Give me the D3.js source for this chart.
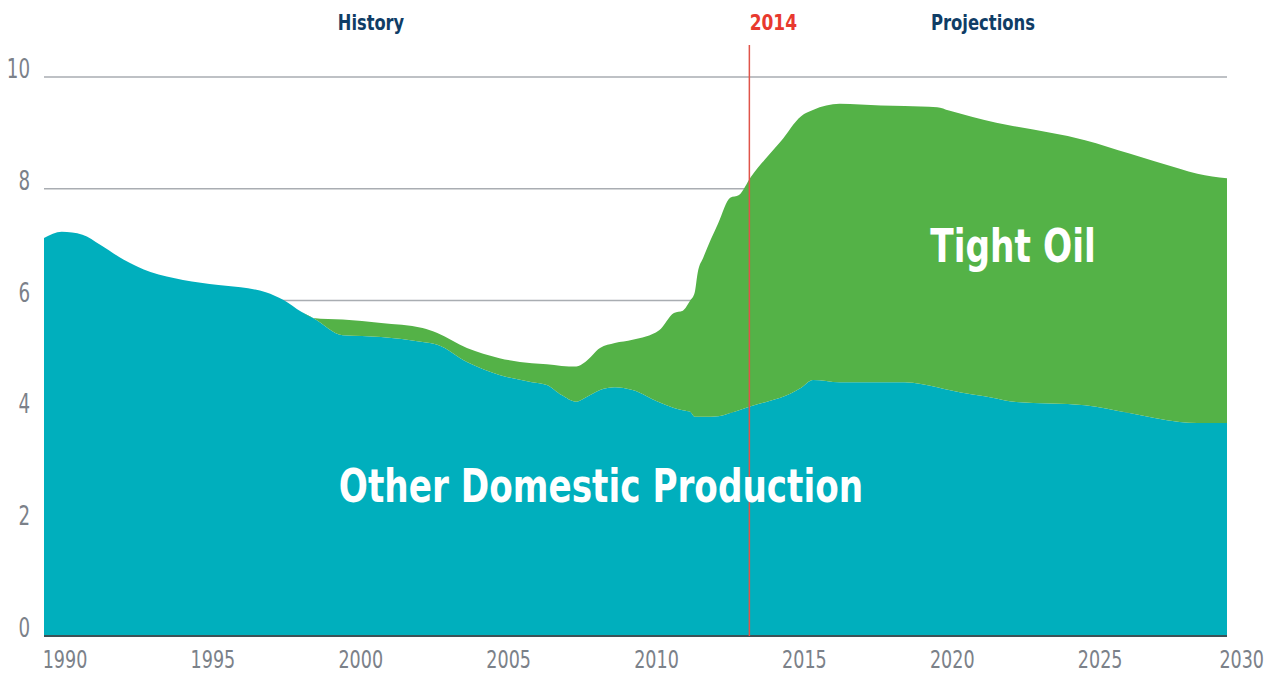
<!DOCTYPE html>
<html>
<head>
<meta charset="utf-8">
<script src="https://cdn.jsdelivr.net/npm/d3@7"></script>
<style>
  html, body { margin: 0; padding: 0; background: #fff; }
  svg text { font-family: 'Liberation Sans Narrow', 'DejaVu Sans Condensed', 'Roboto', sans-serif; font-stretch: condensed; }
</style>
</head>
<body>
<svg id="chart" width="1274" height="675"></svg>
<script>
// ---- data (million barrels per day) ----
const years = [1990, 1990.6, 1991.3, 1991.9, 1992.7, 1993.6, 1994.7, 1995.9, 1996.9, 1997.5,
  1998.1, 1998.7, 1999.1, 2000.1, 2001.4, 2002.8, 2003.3, 2004.3, 2005.4, 2006.5,
  2007.0, 2007.5, 2008.0, 2008.3, 2008.8, 2009.3, 2009.9, 2010.8, 2011.3, 2011.6,
  2011.85, 2012.0, 2012.1, 2012.3, 2012.8, 2013.2, 2013.5, 2013.9, 2014.5, 2014.9,
  2015.6, 2016.0, 2016.9, 2018.3, 2019.1, 2020.2, 2020.6, 2022.2, 2022.8, 2025.2,
  2026.7, 2028.4, 2029.0, 2030];
const otherDomestic = [7.12, 7.23, 7.18, 7.00, 6.73, 6.51, 6.37, 6.28, 6.22, 6.15,
  6.01, 5.80, 5.69, 5.38, 5.35, 5.26, 5.21, 4.90, 4.67, 4.54,
  4.49, 4.31, 4.19, 4.26, 4.40, 4.45, 4.40, 4.18, 4.08, 4.04,
  4.01, 3.92, 3.92, 3.92, 3.93, 3.99, 4.04, 4.11, 4.20, 4.26,
  4.44, 4.58, 4.54, 4.54, 4.54, 4.45, 4.40, 4.25, 4.19, 4.13,
  3.99, 3.83, 3.81, 3.81];
const tightOil = [0, 0, 0, 0, 0, 0, 0, 0, 0, 0,
  0, 0, 0, 0.28, 0.25, 0.25, 0.21, 0.25, 0.30, 0.34,
  0.37, 0.52, 0.63, 0.64, 0.75, 0.79, 0.90, 1.29, 1.70, 1.78,
  1.99, 2.22, 2.57, 2.86, 3.46, 3.85, 3.85, 4.10, 4.40, 4.58,
  4.86, 4.83, 4.98, 4.95, 4.94, 5.01, 5.00, 4.93, 4.93, 4.74,
  4.64, 4.53, 4.46, 4.38];
const xTicks = [1990, 1995, 2000, 2005, 2010, 2015, 2020, 2025, 2030];
const yTicks = [0, 2, 4, 6, 8, 10];
const dividerYear = 2013.85;
const dividerLabel = "2014";
const leftLabel = "History";
const rightLabel = "Projections";
const seriesNames = ["Other Domestic Production", "Tight Oil"];

// ---- layout ----
const svg = d3.select("#chart");
const x = d3.scaleLinear().domain([1990, 2030]).range([44, 1227]);
const y = d3.scaleLinear().domain([0, 10]).range([636, 77]);

const rows = years.map((yr, i) => ({ year: yr, other: otherDomestic[i], tight: tightOil[i] }));
const stack = d3.stack().keys(["other", "tight"]);
const layers = stack(rows);
const colors = { other: "#00afbd", tight: "#54b247" };

// condense text horizontally to mimic a narrow typeface
function condense(sel, f) {
  sel.each(function () {
    const len = this.getComputedTextLength();
    d3.select(this).attr("textLength", len * f).attr("lengthAdjust", "spacingAndGlyphs");
  });
}

// gridlines
svg.append("g").selectAll("line").data(yTicks.filter(d => d > 0)).join("line")
  .attr("x1", x(1990)).attr("x2", x(2030))
  .attr("y1", d => y(d)).attr("y2", d => y(d))
  .attr("stroke", "#a9adb2").attr("stroke-width", 1.5);

// areas
const area = d3.area()
  .x(d => x(d.data.year))
  .y0(d => y(d[0]))
  .y1(d => y(d[1]))
  .curve(d3.curveMonotoneX);

svg.append("g").selectAll("path").data(layers).join("path")
  .attr("d", area)
  .attr("fill", d => colors[d.key]);

// baseline
svg.append("line")
  .attr("x1", x(1990)).attr("x2", x(2030))
  .attr("y1", y(0)).attr("y2", y(0))
  .attr("stroke", "#3c5257").attr("stroke-width", 2);

// divider line
svg.append("line")
  .attr("x1", x(dividerYear)).attr("x2", x(dividerYear))
  .attr("y1", 45).attr("y2", y(0))
  .attr("stroke", "#e0544a").attr("stroke-width", 1.5);

// y labels
svg.append("g").selectAll("text").data(yTicks).join("text")
  .attr("x", 30).attr("y", d => y(d) + 1)
  .attr("text-anchor", "end")
  .attr("font-size", 26).attr("fill", "#7b8189")
  .text(d => d)
  .call(condense, 0.78);

// x labels (last one right-aligned so it stays inside the page)
const lastTick = xTicks[xTicks.length - 1];
svg.append("g").selectAll("text").data(xTicks).join("text")
  .attr("transform", d => `translate(${d === lastTick ? x(d) + 37 : x(d) + 21},668) scale(0.78,1)`)
  .attr("text-anchor", d => d === lastTick ? "end" : "middle")
  .attr("font-size", 25).attr("fill", "#7b8189")
  .text(d => d);

// headers
svg.append("text").attr("x", 371).attr("y", 30).attr("text-anchor", "middle")
  .attr("font-size", 22).attr("font-weight", "bold").attr("fill", "#0f3d66").text(leftLabel)
  .call(condense, 0.82);
svg.append("text").attr("x", x(dividerYear) + 24).attr("y", 30).attr("text-anchor", "middle")
  .attr("font-size", 22).attr("font-weight", "bold").attr("fill", "#e8392e").text(dividerLabel)
  .call(condense, 0.86);
svg.append("text").attr("x", 983).attr("y", 30).attr("text-anchor", "middle")
  .attr("font-size", 22).attr("font-weight", "bold").attr("fill", "#0f3d66").text(rightLabel)
  .call(condense, 0.83);

// series labels
svg.append("text").attr("x", 1013).attr("y", 262).attr("text-anchor", "middle")
  .attr("font-size", 46).attr("font-weight", "bold").attr("fill", "#fff").text(seriesNames[1])
  .call(condense, 0.83);
svg.append("text").attr("x", 601).attr("y", 502).attr("text-anchor", "middle")
  .attr("font-size", 47).attr("font-weight", "bold").attr("fill", "#fff").text(seriesNames[0])
  .call(condense, 0.81);
</script>
</body>
</html>
